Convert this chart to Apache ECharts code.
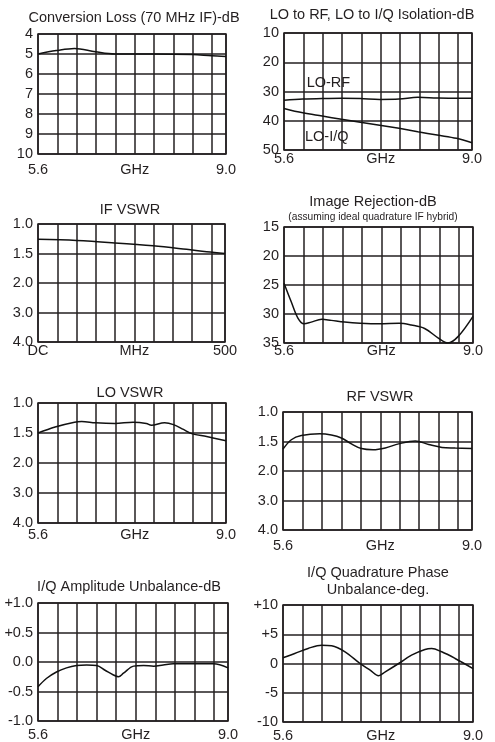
<!DOCTYPE html>
<html><head><meta charset="utf-8">
<script src="https://cdn.jsdelivr.net/npm/echarts@6/dist/echarts.min.js"></script>
<style>html,body{margin:0;padding:0;background:#fff}#c{width:495px;height:742px}</style>
</head><body><div id="c"></div>
<script>
// ---------- data ----------
const ghzRange = [5.6, 9.0];
const mhzRange = [0, 500];
const ghzTickLabels = {'5.6':'5.6', '7.35':'GHz', '9':'9.0'};
const mhzTickLabels = {'0':'DC', '257.5':'MHz', '500':'500'};
const vswrTickLabels = ['1.0', '1.5', '2.0', '3.0', '4.0'];
const vswrTickValues = [1.0, 1.5, 2.0, 3.0, 4.0];

const convLoss = [[5.6,5.0],[5.93,4.83],[6.26,4.72],[6.64,4.89],[6.99,5.0],[7.68,5.0],[8.39,5.03],[8.74,5.09],[9.0,5.12]];

const isoLoRf = [[5.6,32.95],[5.94,32.6],[6.29,32.4],[6.64,32.3],[6.98,32.4],[7.33,32.7],[7.68,32.6],[8.02,32.0],[8.37,32.2],[8.72,32.3],[9.0,32.3]];
const isoLoIq = [[5.6,35.8],[5.94,37.3],[6.29,38.4],[6.64,39.5],[6.98,40.5],[7.33,41.5],[7.68,42.6],[8.02,43.75],[8.37,44.9],[8.72,46.0],[9.0,47.5]];
const isoLabels = [{text:'LO-RF', at:[6.01,27.2]},{text:'LO-I/Q', at:[5.98,45.5]}];

const ifVswr = [[0,1.26],[103,1.28],[205,1.32],[308,1.37],[397,1.43],[451,1.47],[500,1.5]];

const imageRej = [[5.6,24.7],[5.73,27.9],[5.85,30.7],[5.96,31.7],[6.09,31.4],[6.28,30.9],[6.45,31.1],[6.69,31.4],[6.97,31.6],[7.32,31.7],[7.67,31.6],[7.89,31.9],[8.13,32.5],[8.37,34.1],[8.55,35.0],[8.73,33.9],[9.0,30.4]];

const loVswr = [[5.6,1.5],[5.91,1.40],[6.26,1.32],[6.39,1.31],[6.64,1.33],[6.99,1.34],[7.32,1.32],[7.56,1.34],[7.65,1.37],[7.89,1.33],[8.05,1.36],[8.23,1.44],[8.38,1.51],[8.65,1.56],[9.0,1.63]];

const rfVswr = [[5.6,1.63],[5.75,1.47],[5.93,1.40],[6.26,1.37],[6.47,1.39],[6.65,1.44],[6.83,1.54],[7.01,1.62],[7.22,1.64],[7.44,1.61],[7.68,1.54],[7.98,1.49],[8.22,1.55],[8.46,1.60],[8.70,1.61],[9.0,1.62]];

const ampUnbal = [[5.6,-0.42],[5.75,-0.28],[5.93,-0.17],[6.11,-0.10],[6.29,-0.06],[6.47,-0.05],[6.65,-0.06],[6.80,-0.14],[6.95,-0.22],[7.04,-0.25],[7.13,-0.19],[7.31,-0.07],[7.49,-0.06],[7.67,-0.07],[7.84,-0.05],[8.02,-0.03],[8.38,-0.03],[8.74,-0.03],[9.0,-0.10]];

const phaseUnbal = [[5.6,0.97],[5.81,1.71],[6.05,2.57],[6.29,3.14],[6.47,3.03],[6.71,2.0],[6.98,0.0],[7.16,-1.14],[7.31,-2.1],[7.43,-1.43],[7.67,0.0],[7.90,1.43],[8.14,2.4],[8.26,2.57],[8.44,2.0],[8.68,0.86],[9.0,-0.86]];

const ampTickLabels = {'1':'+1.0','0.5':'+0.5','0':'0.0','-0.5':'-0.5','-1':'-1.0'};
const phaseTickLabels = {'10':'+10','5':'+5','0':'0','-5':'-5','-10':'-10'};

// ---------- helpers ----------
const FONT = '"Liberation Sans", Arial, Helvetica, sans-serif';
const INK = '#231f20';
const FS = 14.5;
function vswrPos(v) { // VSWR value -> position on the evenly spaced VSWR grid
  for (let i = 0; i < vswrTickValues.length - 1; i++) {
    const a = vswrTickValues[i], b = vswrTickValues[i+1];
    if (v <= b || i === vswrTickValues.length - 2) return i + (v - a) / (b - a);
  }
}
function pickLabel(map, v) {
  for (const k in map) if (Math.abs(parseFloat(k) - v) < 1e-6) return map[k];
  return '';
}

const panels = [
  {box:[38,34,188,120], xKind:'ghz', xMargin:8, y:{min:4,max:10,interval:1,inverse:true,fmt:v=>String(v)}, series:[convLoss]},
  {box:[284,33,188,117], xKind:'ghz', xMargin:1, y:{min:10,max:50,interval:10,inverse:true,fmt:v=>String(v)}, series:[isoLoRf, isoLoIq], labels:isoLabels},
  {box:[38,224,187,118], xKind:'mhz', xMargin:1, y:{min:0,max:4,interval:1,inverse:true,fmt:v=>vswrTickLabels[Math.round(v)]}, series:[ifVswr], vswr:true},
  {box:[284,227,189,116], xKind:'ghz', xMargin:0, y:{min:15,max:35,interval:5,inverse:true,fmt:v=>String(v)}, series:[imageRej]},
  {box:[38,403,188,120], xKind:'ghz', xMargin:4, y:{min:0,max:4,interval:1,inverse:true,fmt:v=>vswrTickLabels[Math.round(v)]}, series:[loVswr], vswr:true},
  {box:[283,412,189,118], xKind:'ghz', xMargin:8, y:{min:0,max:4,interval:1,inverse:true,fmt:v=>vswrTickLabels[Math.round(v)]}, series:[rfVswr], vswr:true},
  {box:[38,603,190,118], xKind:'ghz', xMargin:6, y:{min:-1,max:1,interval:0.5,inverse:false,fmt:v=>pickLabel(ampTickLabels,v)}, series:[ampUnbal]},
  {box:[283,605,190,117], xKind:'ghz', xMargin:6, y:{min:-10,max:10,interval:5,inverse:false,fmt:v=>pickLabel(phaseTickLabels,v)}, series:[phaseUnbal]}
];

const titles = [
  {text:'Conversion Loss (70 MHz IF)-dB', x:134, y:18, size:FS},
  {text:'LO to RF, LO to I/Q Isolation-dB', x:372, y:15, size:FS},
  {text:'IF VSWR', x:130, y:210, size:FS},
  {text:'Image Rejection-dB', x:373, y:202, size:FS},
  {text:'(assuming ideal quadrature IF hybrid)', x:373, y:217, size:10.2},
  {text:'LO VSWR', x:130, y:393, size:FS},
  {text:'RF VSWR', x:380, y:397, size:FS},
  {text:'I/Q Amplitude Unbalance-dB', x:129, y:587, size:FS},
  {text:'I/Q Quadrature Phase', x:378, y:573, size:FS},
  {text:'Unbalance-deg.', x:378, y:590, size:FS}
];

const grids = [], xAxes = [], yAxes = [], series = [];
const splitStyle = {show:true, lineStyle:{color:INK, width:1.5}};
panels.forEach((p, i) => {
  grids.push({left:p.box[0], top:p.box[1], width:p.box[2], height:p.box[3], show:true,
    borderColor:INK, borderWidth:1.5, backgroundColor:'transparent', containLabel:false, outerBoundsMode:'none'});
  const isG = p.xKind === 'ghz';
  xAxes.push({
    type:'value', gridIndex:i,
    min: isG ? ghzRange[0] : mhzRange[0], max: isG ? ghzRange[1] : mhzRange[1],
    interval: isG ? 0.35 : 51.5,
    axisLine:{show:false}, axisTick:{show:false}, splitLine:splitStyle,
    axisLabel:{show:true, margin:p.xMargin, color:INK, fontFamily:FONT, fontSize:FS, showMinLabel:true, showMaxLabel:true, hideOverlap:false,
      formatter: v => pickLabel(isG ? ghzTickLabels : mhzTickLabels, v)}
  });
  yAxes.push({
    type:'value', gridIndex:i, min:p.y.min, max:p.y.max, interval:p.y.interval, inverse:p.y.inverse,
    axisLine:{show:false}, axisTick:{show:false}, splitLine:splitStyle,
    axisLabel:{show:true, margin:5, color:INK, fontFamily:FONT, fontSize:FS, showMinLabel:true, showMaxLabel:true, formatter:p.y.fmt}
  });
  p.series.forEach((d, k) => {
    const s = {
      type:'line', xAxisIndex:i, yAxisIndex:i, symbol:'none', smooth:0.35, silent:true,
      lineStyle:{color:'#111', width:1.5},
      data: p.vswr ? d.map(pt => [pt[0], vswrPos(pt[1])]) : d
    };
    if (p.labels && p.labels[k]) {
      s.markPoint = {symbol:'circle', symbolSize:0, silent:true,
        data:[{coord:p.labels[k].at, value:p.labels[k].text}],
        label:{show:true, position:'right', distance:0, formatter:p.labels[k].text, color:INK, fontFamily:FONT, fontSize:FS}};
    }
    series.push(s);
  });
});

const chart = echarts.init(document.getElementById('c'), null, {renderer:'canvas'});
chart.setOption({
  animation:false,
  backgroundColor:'#fff',
  grid:grids, xAxis:xAxes, yAxis:yAxes, series:series,
  graphic: titles.map(t => ({type:'text', x:t.x, y:t.y, silent:true,
    style:{text:t.text, fill:INK, font:t.size + 'px ' + FONT, align:'center', verticalAlign:'middle'}}))
});
</script></body></html>
